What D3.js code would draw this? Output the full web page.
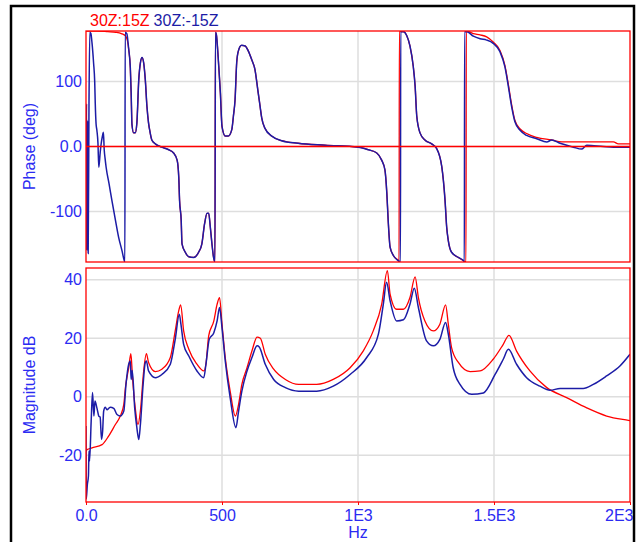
<!DOCTYPE html>
<html lang="en">
<head>
<meta charset="UTF-8">
<title>Phase / Magnitude</title>
<script src="https://cdn.jsdelivr.net/npm/d3@7"></script>
<style>
  body { margin: 0; background: #fff; }
  text { font-family: "Liberation Sans", Arial, sans-serif; }
</style>
</head>
<body>
<svg width="637" height="542"></svg>
<script>
// series names
var seriesNames = ['30Z:15Z', '30Z:-15Z'];

// x ticks (Hz)
var freqTicks = [0, 500, 1000, 1500, 2000];
var freqLabels = ['0.0', '500', '1E3', '1.5E3', '2E3'];

// y ticks
var phaseTicks = [100, 0, -100];
var phaseLabels = ['100', '0.0', '-100'];
var magTicks = [40, 20, 0, -20];
var magLabels = ['40', '20', '0', '-20'];

// phase (deg), [Hz, deg]
var phaseRed = [[0,178],[40,178],[80,177],[110,176],[130,174],[146,170],[157,150],[163,121],[166,83],[169,34],[175,21],[181,21],[187,36],[194,103],[200,129],[206,137],[212,129],[218,103],[224,62],[230,36],[236,21],[242,10],[255,4],[279,-1],[304,-5],[322,-10],[335,-21],[341,-47],[344,-83],[350,-114],[353,-150],[365,-163],[378,-170],[396,-171],[414,-163],[426,-150],[436,-119],[445,-103],[451,-103],[457,-124],[463,-150],[469,-171],[474,-178],[476,176],[479,173],[488,124],[494,83],[500,31],[512,16],[523,16],[536,26],[542,47],[548,72],[554,129],[560,147],[572,156],[585,155],[597,147],[609,134],[621,119],[633,83],[640,62],[646,44],[658,28],[683,16],[719,9],[780,5],[879,2],[1001,-1],[1038,-5],[1069,-10],[1087,-21],[1099,-36],[1106,-72],[1111,-114],[1118,-155],[1130,-168],[1148,-176],[1151,-178],[1152,177],[1167,177],[1179,171],[1191,155],[1203,124],[1210,93],[1216,47],[1228,21],[1246,10],[1271,4],[1289,-3],[1308,-31],[1320,-83],[1326,-124],[1332,-145],[1344,-163],[1369,-171],[1388,-176],[1397,-178],[1398,178],[1424,174],[1449,172],[1473,169],[1497,161],[1522,148],[1540,125],[1553,95],[1565,64],[1577,40],[1596,27],[1620,20],[1657,14],[1712,10],[1749,7],[1939,7],[1957,4],[2000,4]];

var phaseBlue = [[0,-160],[2,66],[4,-160],[6,40],[8,-165],[11,66],[14,176],[18,174],[22,160],[28,128],[32,100],[34,67],[37,35],[40,25],[44,5],[47,-32],[52,-10],[56,5],[60,15],[64,22],[67,-5],[70,-18],[74,-32],[85,-58],[96,-85],[108,-113],[120,-140],[132,-160],[141,-176],[143,-178],[144,176],[150,174],[157,150],[163,121],[166,83],[169,34],[175,21],[181,21],[187,36],[194,103],[200,129],[206,137],[212,129],[218,103],[224,62],[230,36],[236,21],[242,10],[255,4],[279,-1],[304,-5],[322,-10],[335,-21],[341,-47],[344,-83],[350,-114],[353,-150],[365,-163],[378,-170],[396,-171],[414,-163],[426,-150],[436,-119],[445,-103],[451,-103],[457,-124],[463,-150],[469,-171],[474,-178],[476,176],[479,173],[488,124],[494,83],[500,31],[512,16],[523,16],[536,26],[542,47],[548,72],[554,129],[560,147],[572,156],[585,155],[597,147],[609,134],[621,119],[633,83],[640,62],[646,44],[658,28],[683,16],[719,9],[780,5],[879,2],[1001,-1],[1038,-5],[1069,-10],[1087,-21],[1099,-36],[1106,-72],[1111,-114],[1118,-155],[1130,-168],[1148,-176],[1156,-178],[1157,177],[1167,177],[1179,171],[1191,155],[1203,124],[1210,93],[1216,47],[1228,21],[1246,10],[1271,4],[1289,-3],[1308,-31],[1320,-83],[1326,-124],[1332,-145],[1344,-163],[1369,-171],[1388,-176],[1391,-178],[1392,177],[1400,177],[1424,170],[1449,166],[1473,164],[1497,159],[1522,146],[1540,123],[1553,92],[1565,61],[1577,38],[1596,25],[1620,17],[1657,12],[1694,7],[1712,10],[1743,5],[1792,-1],[1822,-4],[1841,2],[1902,0],[1939,-1],[2000,-1]];

// magnitude (dB), [Hz, dB]
var magRed = [[0,-18.5],[4,-18.1],[22,-17.5],[59,-16.4],[83,-13.5],[108,-9.5],[126,-6.6],[139,-2.6],[145,3.1],[157,9.9],[165,14.7],[171,6.5],[181,-3.8],[191,-9.5],[200,-4.9],[212,8.8],[222,14.7],[230,11.7],[255,8.6],[279,9.4],[310,13.4],[328,22.5],[341,29.4],[348,31.4],[359,22.5],[378,16.2],[408,11.1],[433,8.8],[441,11.1],[451,20.8],[470,25.9],[482,31.6],[491,33.9],[500,24.8],[512,13.4],[530,1.9],[549,-6.6],[561,-2.6],[573,4.2],[592,9.9],[610,15.6],[629,20.4],[641,20],[659,14.5],[690,9.4],[733,5.9],[782,4.2],[848,4.2],[909,5.9],[971,9.9],[1019,15.6],[1056,22.5],[1087,31.6],[1108,43.1],[1118,35.1],[1142,29.9],[1167,29.9],[1191,33.9],[1210,41],[1222,33.9],[1246,25.9],[1277,22.5],[1301,24.8],[1322,31.4],[1332,24.8],[1344,16.8],[1369,11.7],[1412,8.6],[1449,8.8],[1497,12.8],[1534,17.9],[1555,21],[1583,15.6],[1632,8.8],[1694,3.1],[1767,-0.3],[1841,-3.8],[1914,-6.6],[1994,-8.1],[2000,-8.2]];

var magBlue = [[0,-10],[1,-35],[5,-30],[9,-27],[11,-18.6],[13,-22],[19,-8.4],[24,1.4],[29,-6.6],[33,-1.5],[40,-3.8],[47,-6.6],[52,-7],[57,-14.6],[61,-12],[65,-4.9],[71,-3.6],[77,-4.5],[89,-3.6],[102,-4],[114,-6.1],[126,-6.6],[139,-4.9],[147,4.2],[157,11.1],[163,12.2],[166,5.9],[170,9],[179,-3.8],[187,-10.6],[194,-14.6],[200,-9.5],[210,4.2],[218,11.7],[222,12.2],[230,8.8],[255,6.5],[279,7.6],[310,11.1],[328,19.6],[343,28.2],[349,24.8],[359,17.9],[378,13.9],[408,8.8],[433,6.5],[441,11.1],[453,19.6],[470,21.9],[482,25.9],[491,30.5],[500,23.6],[512,12.2],[530,-0.3],[551,-10.6],[561,-4.9],[573,1.9],[592,8.8],[610,13.4],[629,17.4],[637,17],[659,11.1],[690,5.9],[733,3.1],[782,1.9],[848,1.9],[909,3.6],[971,7.6],[1032,13.4],[1075,21.4],[1093,31.6],[1105,39.1],[1118,32.8],[1142,25.9],[1167,26.3],[1191,31.6],[1207,37.1],[1222,30.5],[1252,19.1],[1277,17.4],[1301,19.6],[1322,25.4],[1332,21.4],[1350,9.9],[1375,4.2],[1418,0.8],[1461,1.3],[1504,7.6],[1534,12.8],[1553,16.2],[1583,11.1],[1620,6.5],[1669,3.6],[1706,2.2],[1743,2.8],[1828,2.8],[1865,4.2],[1914,7.1],[1963,10.5],[2000,14.5]];

var RED = '#ff0000', BLUE = '#1c1ca6', TXT = '#2b2bf2', GRID = '#dedede';

var svg = d3.select('svg');

// scales
var x = d3.scaleLinear().domain([0, 2000]).range([86, 630]);
var yP = d3.scaleLinear().domain([-178, 178]).range([262, 31]);
var yM = d3.scaleLinear().domain([-36, 44]).range([502, 268]);

// outer black frame
svg.append('rect')
    .attr('x', 11).attr('y', 6).attr('width', 623).attr('height', 560)
    .attr('fill', 'none').attr('stroke', '#000').attr('stroke-width', 2.5);

// legend
var leg = svg.append('text').attr('x', 90).attr('y', 26).style('font-size', '16px');
leg.append('tspan').attr('fill', RED).text(seriesNames[0]);
leg.append('tspan').attr('fill', BLUE).attr('dx', 4).text(seriesNames[1]);

function panel(y, ticks, labels, series, clipId, title) {
    var y0 = y.range()[0], y1 = y.range()[1];
    svg.append('clipPath').attr('id', clipId)
        .append('rect').attr('x', 86).attr('y', y1).attr('width', 544).attr('height', y0 - y1);

    // grid
    svg.append('g').selectAll('line').data(freqTicks.slice(1, -1)).enter().append('line')
        .attr('x1', d => x(d)).attr('x2', d => x(d)).attr('y1', y1).attr('y2', y0)
        .attr('stroke', GRID).attr('stroke-width', 1.5);
    svg.append('g').selectAll('line').data(ticks).enter().append('line')
        .attr('x1', 86).attr('x2', 630).attr('y1', d => y(d)).attr('y2', d => y(d))
        .attr('stroke', GRID).attr('stroke-width', 1.5);

    // y axis labels
    var ax = svg.append('g').attr('transform', 'translate(86,0)')
        .call(d3.axisLeft(y).tickValues(ticks).tickSize(0).tickPadding(4)
            .tickFormat((d, i) => labels[i]));
    ax.select('.domain').remove();
    ax.selectAll('text').attr('fill', TXT).style('font-size', '16px')
        .style('font-family', '"Liberation Sans", Arial, sans-serif');

    // curves
    var line = d3.line().curve(d3.curveMonotoneX).x(d => x(d[0])).y(d => y(d[1]));
    var g = svg.append('g').attr('clip-path', 'url(#' + clipId + ')');
    g.append('path').datum(series[0]).attr('d', line)
        .attr('fill', 'none').attr('stroke', RED).attr('stroke-width', 1.3);
    g.append('path').datum(series[1]).attr('d', line)
        .attr('fill', 'none').attr('stroke', BLUE).attr('stroke-width', 1.5);

    // red border
    svg.append('rect').attr('x', 86).attr('y', y1).attr('width', 544).attr('height', y0 - y1)
        .attr('fill', 'none').attr('stroke', RED).attr('stroke-width', 1.3);

    // axis title
    svg.append('text')
        .attr('transform', 'translate(35,' + ((y0 + y1) / 2) + ') rotate(-90)')
        .attr('text-anchor', 'middle').attr('fill', TXT).style('font-size', '16px')
        .text(title);
}

panel(yP, phaseTicks, phaseLabels, [phaseRed, phaseBlue], 'clipP', 'Phase (deg)');
// red zero line on phase
svg.append('line').attr('x1', 86).attr('x2', 630).attr('y1', yP(0)).attr('y2', yP(0))
    .attr('stroke', RED).attr('stroke-width', 1.3);

panel(yM, magTicks, magLabels, [magRed, magBlue], 'clipM', 'Magnitude dB');

// x axis
var xa = svg.append('g').attr('transform', 'translate(0,502)')
    .call(d3.axisBottom(x).tickValues(freqTicks).tickSize(3).tickPadding(5)
        .tickFormat((d, i) => freqLabels[i]));
xa.select('.domain').remove();
xa.selectAll('line').attr('stroke', RED);
xa.selectAll('text').attr('fill', TXT).style('font-size', '16px')
    .style('font-family', '"Liberation Sans", Arial, sans-serif');
xa.selectAll('text').filter((d, i) => i === freqTicks.length - 1)
    .attr('text-anchor', 'end').attr('x', 3);

svg.append('text').attr('x', x(1000)).attr('y', 538).attr('text-anchor', 'middle')
    .attr('fill', TXT).style('font-size', '16px').text('Hz');
</script>
</body>
</html>
